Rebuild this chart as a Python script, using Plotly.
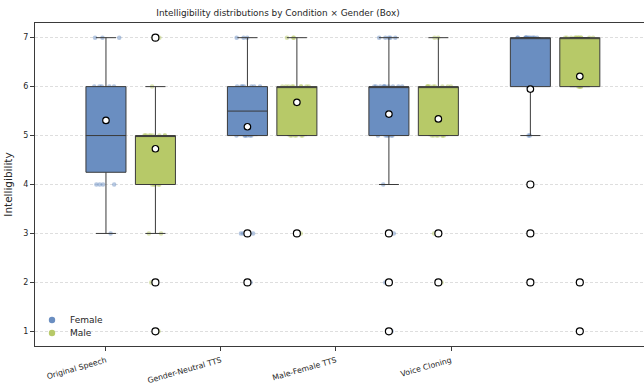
import plotly.graph_objects as go

# ---------------- data ----------------
conditions = ["Original Speech", "Gender-Neutral TTS", "Male-Female TTS", "Voice Cloning"]
genders = ["Female", "Male"]

# raw ratings (for the jittered strip points)
female_values = [
    [3] + [4]*4 + [5]*5 + [6]*5 + [7]*3,
    [2] + [3]*3 + [5]*6 + [6]*7 + [7]*3,
    [1, 2, 3, 4] + [5]*6 + [6]*10 + [7]*5,
    [2, 3, 4, 5, 5] + [6]*6 + [7]*13,
]
male_values = [
    [1, 2, 3, 3] + [4]*5 + [5]*9 + [6] + [7]*4,
    [3] + [5]*6 + [6]*9 + [7]*3,
    [2, 3] + [5]*7 + [6]*9 + [7]*2,
    [1, 2] + [6]*5 + [7]*13,
]

# box statistics
female_q1 = [4.25, 5, 5, 6]
female_median = [5, 5.5, 6, 7]
female_q3 = [6, 6, 6, 7]
female_lower = [3, 5, 4, 5]
female_upper = [7, 7, 7, 7]
male_q1 = [4, 5, 5, 6]
male_median = [5, 6, 6, 7]
male_q3 = [5, 6, 6, 7]
male_lower = [3, 5, 5, 6]
male_upper = [6, 7, 7, 7]

female_mean = [5.31, 5.18, 5.44, 5.95]
male_mean = [4.73, 5.68, 5.34, 6.21]

female_outliers = [[], [3, 2], [3, 2, 1], [4, 3, 2]]
male_outliers = [[7, 2, 1], [3], [3, 2], [2, 1]]

# ---------------- style / layout ----------------
COL = {"Female": "#6a8ec1", "Male": "#b7c968"}
EDGE = "#3a3a3a"
TXT = "#262626"
GROUP_STEP = 1.23
OFFSET = {"Female": 0.0, "Male": 0.43}
BOX_W = 0.348
FONT = "DejaVu Sans"
W, H = 644, 385
ML, MR, MT, MB = 35, 0, 23, 39
PW, PH = W - ML - MR, H - MT - MB

series = {
    "Female": dict(vals=female_values, q1=female_q1, med=female_median, q3=female_q3,
                   lo=female_lower, hi=female_upper, mean=female_mean, out=female_outliers),
    "Male": dict(vals=male_values, q1=male_q1, med=male_median, q3=male_q3,
                 lo=male_lower, hi=male_upper, mean=male_mean, out=male_outliers),
}

fig = go.Figure()

# jittered raw points (beneath the boxes)
for g in genders:
    s = series[g]
    for i in range(len(conditions)):
        pos = i * GROUP_STEP + OFFSET[g]
        fig.add_trace(go.Box(
            x=[pos] * len(s["vals"][i]), y=s["vals"][i],
            boxpoints="all", jitter=0.75, pointpos=0, width=BOX_W,
            fillcolor="rgba(0,0,0,0)", line=dict(width=0, color="rgba(0,0,0,0)"),
            marker=dict(color=COL[g], size=4.5, opacity=0.5),
            showlegend=False, hoverinfo="skip",
        ))

# boxes from statistics
for g in genders:
    s = series[g]
    xs = [i * GROUP_STEP + OFFSET[g] for i in range(len(conditions))]
    fig.add_trace(go.Box(
        x=xs, q1=s["q1"], median=s["med"], q3=s["q3"],
        lowerfence=s["lo"], upperfence=s["hi"],
        width=BOX_W, whiskerwidth=0.5, boxpoints=False,
        fillcolor=COL[g], line=dict(color=EDGE, width=1),
        showlegend=False, name=g,
    ))

# outliers
for g in genders:
    s = series[g]
    ox, oy = [], []
    for i in range(len(conditions)):
        for v in s["out"][i]:
            ox.append(i * GROUP_STEP + OFFSET[g])
            oy.append(v)
    fig.add_trace(go.Scatter(
        x=ox, y=oy, mode="markers", showlegend=False,
        marker=dict(symbol="circle", size=7, color="white", line=dict(color="black", width=1.2)),
    ))

# means
for g in genders:
    s = series[g]
    fig.add_trace(go.Scatter(
        x=[i * GROUP_STEP + OFFSET[g] for i in range(len(conditions))], y=s["mean"],
        mode="markers", showlegend=False,
        marker=dict(symbol="circle", size=6.5, color="white", line=dict(color="black", width=1.2)),
    ))

# legend (drawn compactly, bottom-left inside the axes)
legend_rows_px = [320, 333]
for g, ypx in zip(genders, legend_rows_px):
    px = (52 - ML) / PW
    py = (H - MB - ypx) / PH
    fig.add_shape(type="circle", xref="paper", yref="paper",
                  xsizemode="pixel", ysizemode="pixel", xanchor=px, yanchor=py,
                  x0=-3.2, x1=3.2, y0=-3.2, y1=3.2,
                  fillcolor=COL[g], line=dict(width=0))
    fig.add_annotation(x=(68 - ML) / PW, y=py, xref="paper", yref="paper",
                       text=g, showarrow=False, xanchor="left", yanchor="middle",
                       font=dict(size=9, color=TXT, family=FONT))

fig.update_layout(
    width=W, height=H,
    margin=dict(l=ML, r=MR, t=MT, b=MB),
    paper_bgcolor="white", plot_bgcolor="white",
    boxmode="overlay", showlegend=False,
    font=dict(family=FONT, size=9, color=TXT),
    title=dict(text="Intelligibility distributions by Condition × Gender (Box)",
               x=(278 - ML) / PW, xref="paper", xanchor="center",
               y=1 - 13 / H, yanchor="middle", font=dict(size=8.9, color=TXT)),
)
fig.update_xaxes(
    range=[-0.617, 4.678], tickmode="array",
    tickvals=list(range(len(conditions))), ticktext=conditions,
    tickangle=-16, ticks="outside", ticklen=4, tickcolor=EDGE,
    tickfont=dict(size=7.8, color=TXT), ticklabelstandoff=2,
    showline=True, linecolor=EDGE, linewidth=1, mirror=True,
    showgrid=False, zeroline=False,
)
fig.update_yaxes(
    range=[0.7, 7.3], tickmode="array", tickvals=[1, 2, 3, 4, 5, 6, 7],
    ticks="outside", ticklen=4, tickcolor=EDGE,
    tickfont=dict(size=8, color=TXT),
    showline=True, linecolor=EDGE, linewidth=1,
    showgrid=True, gridcolor="#dedede", griddash="3px,2px", gridwidth=0.8,
    zeroline=False,
    title=dict(text="Intelligibility", font=dict(size=10.5, color=TXT), standoff=8),
)

fig.write_html("out.html")
